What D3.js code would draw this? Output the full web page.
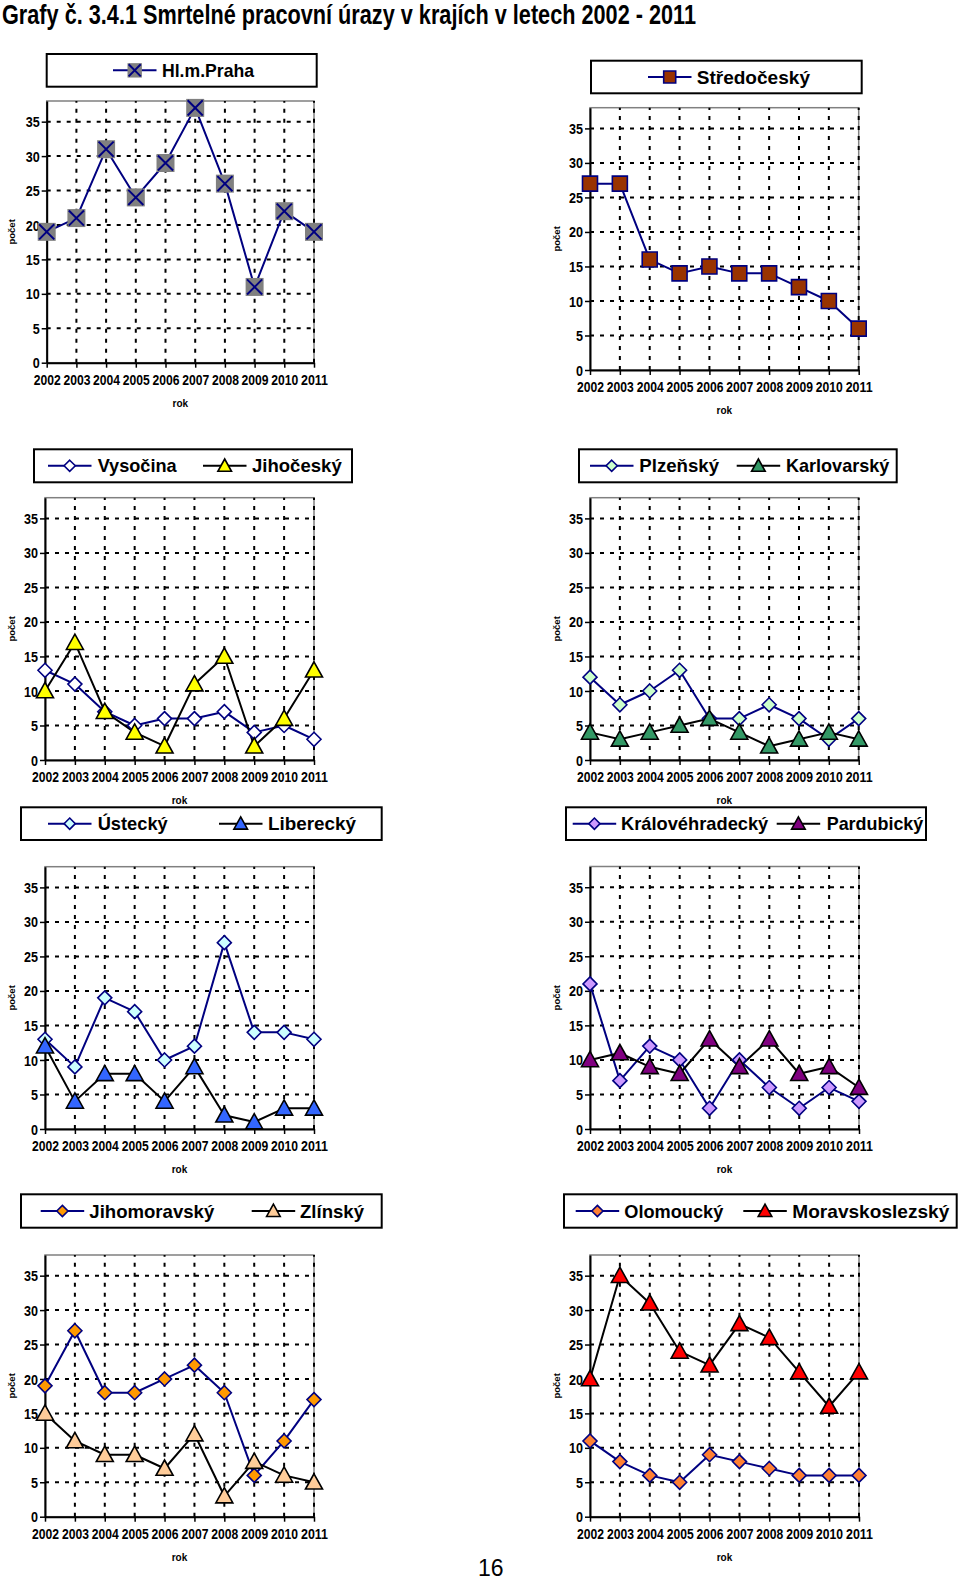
<!DOCTYPE html>
<html><head><meta charset="utf-8">
<script src="https://cdn.jsdelivr.net/npm/d3@7"></script>
<style>body{margin:0;background:#fff}svg{display:block}</style>
</head><body>
<svg id="c" width="960" height="1581"></svg>
<script>
// ---------------- DATA ----------------
const years = [2002, 2003, 2004, 2005, 2006, 2007, 2008, 2009, 2010, 2011];
const yTicks = [0, 5, 10, 15, 20, 25, 30, 35];
const yMax = 38;

const prahaValues          = [19, 21, 31, 24, 29, 37, 26, 11, 22, 19];
const stredoceskyValues    = [27, 27, 16, 14, 15, 14, 14, 12, 10, 6];
const vysocinaValues       = [13, 11, 7, 5, 6, 6, 7, 4, 5, 3];
const jihoceskyValues      = [10, 17, 7, 4, 2, 11, 15, 2, 6, 13];
const plzenskyValues       = [12, 8, 10, 13, 6, 6, 8, 6, 3, 6];
const karlovarskyValues    = [4, 3, 4, 5, 6, 4, 2, 3, 4, 3];
const usteckyValues        = [13, 9, 19, 17, 10, 12, 27, 14, 14, 13];
const libereckyValues      = [12, 4, 8, 8, 4, 9, 2, 1, 3, 3];
const kralovehradeckyValues= [21, 7, 12, 10, 3, 10, 6, 3, 6, 4];
const pardubickyValues     = [10, 11, 9, 8, 13, 9, 13, 8, 9, 6];
const jihomoravskyValues   = [19, 27, 18, 18, 20, 22, 18, 6, 11, 17];
const zlinskyValues        = [15, 11, 9, 9, 7, 12, 3, 8, 6, 5];
const olomouckyValues      = [11, 8, 6, 5, 9, 8, 7, 6, 6, 6];
const moravskoslezskyValues= [20, 35, 31, 24, 22, 28, 26, 21, 16, 21];

const titleText = "Grafy č. 3.4.1  Smrtelné pracovní úrazy v krajích v letech 2002 - 2011";
const xTitle = "rok";
const yTitle = "počet";
const pageNumber = "16";

// ---------------- STYLES / LAYOUT ----------------
const FONT = "'Liberation Sans', Arial, Helvetica, sans-serif";
const NAVY = "#000080";

const series = {
  praha:  {name: "Hl.m.Praha", values: prahaValues, line: NAVY, marker: "xsquare", fill: "#808080", size: 18},
  stred:  {name: "Středočeský", values: stredoceskyValues, line: NAVY, marker: "square", fill: "#993300", size: 15},
  vys:    {name: "Vysočina", values: vysocinaValues, line: NAVY, marker: "diamond", fill: "#FFFFFF", size: 14},
  jihoc:  {name: "Jihočeský", values: jihoceskyValues, line: "#000", marker: "triangle", fill: "#FFFF00", size: 17},
  plz:    {name: "Plzeňský", values: plzenskyValues, line: NAVY, marker: "diamond", fill: "#CCFFCC", size: 14},
  karl:   {name: "Karlovarský", values: karlovarskyValues, line: "#000", marker: "triangle", fill: "#339966", size: 17},
  ust:    {name: "Ústecký", values: usteckyValues, line: NAVY, marker: "diamond", fill: "#CCFFFF", size: 14},
  lib:    {name: "Liberecký", values: libereckyValues, line: "#000", marker: "triangle", fill: "#3366FF", size: 17},
  kral:   {name: "Královéhradecký", values: kralovehradeckyValues, line: NAVY, marker: "diamond", fill: "#CC99FF", size: 14},
  pard:   {name: "Pardubický", values: pardubickyValues, line: "#000", marker: "triangle", fill: "#800080", size: 17},
  jihom:  {name: "Jihomoravský", values: jihomoravskyValues, line: NAVY, marker: "diamond", fill: "#FF9900", size: 14},
  zlin:   {name: "Zlínský", values: zlinskyValues, line: "#000", marker: "triangle", fill: "#FFCC99", size: 17},
  olom:   {name: "Olomoucký", values: olomouckyValues, line: NAVY, marker: "diamond", fill: "#FF8033", size: 14},
  msk:    {name: "Moravskoslezský", values: moravskoslezskyValues, line: "#000", marker: "triangle", fill: "#FF0000", size: 17}
};

const panels = [
  {keys: ["praha"], plot: [46.7, 314, 101, 362.7], ytx: 11.7, box: [46.7, 54, 316.7, 86.7],
   items: [[113, 162, 92]]},
  {keys: ["stred"], plot: [590, 858.7, 107.7, 370], ytx: 556, box: [591, 60.7, 861.7, 93.3],
   items: [[648, 696.7, 113.3]]},
  {keys: ["vys", "jihoc"], plot: [45, 314, 497.7, 760], ytx: 11, box: [34, 449.3, 352, 482.3],
   items: [[48, 97.7, 79], [203, 252, 89.7]]},
  {keys: ["plz", "karl"], plot: [590, 858.7, 497.7, 760], ytx: 556, box: [579, 449.3, 896.7, 482.3],
   items: [[590, 639.3, 79.7], [736.7, 786, 103.3]]},
  {keys: ["ust", "lib"], plot: [45, 314, 866.7, 1129], ytx: 11, box: [21, 807.3, 381.7, 840],
   items: [[48, 97.7, 70], [219, 268, 88]]},
  {keys: ["kral", "pard"], plot: [590, 859, 866.5, 1129], ytx: 556, box: [566, 807.3, 926, 840],
   items: [[572.7, 621, 147.3], [776.7, 826.7, 96.6]]},
  {keys: ["jihom", "zlin"], plot: [45, 314, 1255, 1516.7], ytx: 11, box: [21, 1194.3, 381.7, 1227.7],
   items: [[40.7, 89.3, 125], [251.7, 300, 64]]},
  {keys: ["olom", "msk"], plot: [590, 859, 1255, 1516.7], ytx: 556, box: [564, 1194.3, 956.7, 1227.7],
   items: [[575.7, 624.3, 99], [743.3, 792.3, 157]]}
];

const svg = d3.select("#c");

function shapePath(shape, s) {
  const h = s / 2;
  if (shape === "square" || shape === "xsquare") return `M${-h},${-h}H${h}V${h}H${-h}Z`;
  if (shape === "diamond") return `M0,${-h}L${h},0L0,${h}L${-h},0Z`;
  if (shape === "triangle") return `M0,${-h}L${h},${h * 0.8}L${-h},${h * 0.8}Z`;
}

function drawMarker(g, sr, cx, cy, scale) {
  const s = sr.size * scale;
  if (sr.marker === "xsquare") {
    g.append("path").attr("transform", `translate(${cx},${cy})`)
      .attr("d", shapePath("square", s)).attr("fill", sr.fill);
    const k = s * 0.42;
    g.append("path").attr("transform", `translate(${cx},${cy})`)
      .attr("d", `M${-k},${-k}L${k},${k}M${k},${-k}L${-k},${k}`)
      .attr("stroke", NAVY).attr("stroke-width", 2).attr("fill", "none");
  } else {
    g.append("path").attr("transform", `translate(${cx},${cy})`)
      .attr("d", shapePath(sr.marker, s)).attr("fill", sr.fill)
      .attr("stroke", sr.line).attr("stroke-width", 1.6).attr("stroke-linejoin", "miter");
  }
}

// Title
svg.append("text").attr("x", 2).attr("y", 24)
  .attr("font-family", "'Liberation Sans Narrow','Arial Narrow'," + FONT)
  .attr("font-weight", "bold").attr("font-size", 27)
  .attr("textLength", 694).attr("lengthAdjust", "spacingAndGlyphs")
  .text(titleText);

panels.forEach(p => {
  const [L, R, T, B] = p.plot;
  const g = svg.append("g");
  const x = d3.scalePoint().domain(years).range([L, R]).padding(0);
  const y = d3.scaleLinear().domain([0, yMax]).range([B, T]);

  // plot border
  g.append("rect").attr("x", L).attr("y", T).attr("width", R - L).attr("height", B - T)
    .attr("fill", "#fff").attr("stroke", "#808080").attr("stroke-width", 1.5);

  // grid
  g.append("g").selectAll("line").data(yTicks.filter(v => v > 0)).join("line")
    .attr("x1", L).attr("x2", R).attr("y1", d => y(d)).attr("y2", d => y(d))
    .attr("stroke", "#000").attr("stroke-width", 2).attr("stroke-dasharray", "4,6");
  g.append("g").selectAll("line").data(years.slice(1)).join("line")
    .attr("x1", d => x(d)).attr("x2", d => x(d)).attr("y1", B).attr("y2", T)
    .attr("stroke", "#000").attr("stroke-width", 2).attr("stroke-dasharray", "4,6");

  // axes
  const ya = g.append("g").attr("transform", `translate(${L},0)`)
    .call(d3.axisLeft(y).tickValues(yTicks).tickSize(5).tickSizeOuter(0).tickPadding(2));
  const xa = g.append("g").attr("transform", `translate(0,${B})`)
    .call(d3.axisBottom(x).tickSize(5).tickSizeOuter(0).tickPadding(7));
  [ya, xa].forEach(a => {
    a.attr("font-family", FONT).attr("font-size", 14).attr("font-weight", "bold");
    a.select(".domain").attr("stroke", "#000").attr("stroke-width", 2);
    a.selectAll(".tick line").attr("stroke", "#000").attr("stroke-width", 1.5);
  });
  xa.selectAll(".tick text").attr("textLength", 27).attr("lengthAdjust", "spacingAndGlyphs");
  ya.selectAll(".tick text").attr("dy", "0.36em")
    .attr("textLength", d => d >= 10 ? 14 : 7).attr("lengthAdjust", "spacingAndGlyphs");

  // axis titles
  g.append("text").attr("x", (L + R) / 2).attr("y", B + 44)
    .attr("text-anchor", "middle").attr("font-family", FONT).attr("font-weight", "bold")
    .attr("font-size", 10).text(xTitle);
  g.append("text").attr("transform", `translate(${p.ytx + 3.5},${(T + B) / 2}) rotate(-90)`)
    .attr("text-anchor", "middle").attr("font-family", FONT).attr("font-weight", "bold")
    .attr("font-size", 9.5).text(yTitle);

  // series lines + markers
  p.keys.forEach(k => {
    const sr = series[k];
    const line = d3.line().x((d, i) => x(years[i])).y(d => y(d));
    g.append("path").attr("d", line(sr.values)).attr("fill", "none")
      .attr("stroke", sr.line).attr("stroke-width", 2).attr("stroke-linejoin", "round");
  });
  p.keys.forEach(k => {
    const sr = series[k];
    sr.values.forEach((v, i) => drawMarker(g, sr, x(years[i]), y(v), 1));
  });

  // legend
  const [bx1, by1, bx2, by2] = p.box;
  const lg = svg.append("g");
  lg.append("rect").attr("x", bx1).attr("y", by1).attr("width", bx2 - bx1).attr("height", by2 - by1)
    .attr("fill", "#fff").attr("stroke", "#000").attr("stroke-width", 2);
  const cy = (by1 + by2) / 2;
  p.keys.forEach((k, i) => {
    const sr = series[k];
    const [lx, tx, tw] = p.items[i];
    lg.append("line").attr("x1", lx).attr("x2", lx + 43.5).attr("y1", cy).attr("y2", cy)
      .attr("stroke", sr.line).attr("stroke-width", 2);
    drawMarker(lg, sr, lx + 21.7, cy, 0.8);
    lg.append("text").attr("x", tx).attr("y", cy + 6.5)
      .attr("font-family", FONT).attr("font-weight", "bold").attr("font-size", 18.5)
      .attr("textLength", tw).attr("lengthAdjust", "spacingAndGlyphs").text(sr.name);
  });
});

// page number
svg.append("text").attr("x", 478).attr("y", 1576)
  .attr("font-family", FONT).attr("font-size", 23).text(pageNumber);
</script>
</body></html>
